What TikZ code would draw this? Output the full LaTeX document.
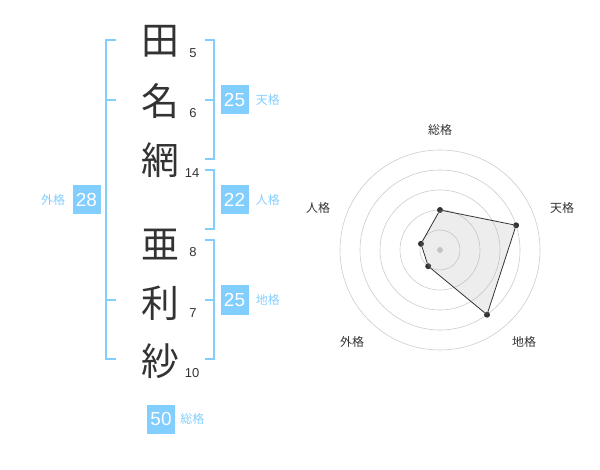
\documentclass[tikz,border=0pt]{standalone}
\usepackage{fontspec}
\usetikzlibrary{positioning}
\setmainfont{Liberation Sans}
\newfontfamily\jp{Noto Sans CJK JP}
\definecolor{skyblue}{HTML}{82CEFF}
\definecolor{ink}{HTML}{333333}
\begin{document}
\begin{tikzpicture}[x=1bp,y=-1bp,
  kanji/.style={text=ink,font=\jp\fontsize{38}{38}\selectfont,inner sep=0pt},
  strokes/.style={text=ink,font=\fontsize{13}{13}\selectfont,inner sep=0pt},
  score/.style={fill=skyblue,text=white,font=\fontsize{19}{19}\selectfont,minimum width=28bp,minimum height=29bp,inner sep=0pt},
  kaku/.style={text=skyblue,font=\jp\fontsize{12}{12}\selectfont,inner sep=0pt},
  brace/.style={draw=skyblue,line width=2bp},
  ring/.style={draw=black!20,line width=0.6bp},
  axis/.style={text=ink,font=\jp\fontsize{12}{12}\selectfont,inner sep=0pt},
  dot/.style={shape=circle,fill=ink,inner sep=0pt,minimum size=6bp}]
\useasboundingbox (0,0) rectangle (600,470);

\node[kanji] (k1) at (160,41) {田};
\node[kanji] (k2) at (160,101) {名};
\node[kanji] (k3) at (160,160) {網};
\node[kanji] (k4) at (160,245) {亜};
\node[kanji] (k5) at (160,303) {利};
\node[kanji] (k6) at (160,361) {紗};

\node[strokes] (s1) at (193,53) {5};
\node[strokes] (s2) at (193,113) {6};
\node[strokes] (s3) at (192,173) {14};
\node[strokes] (s4) at (193,252) {8};
\node[strokes] (s5) at (193,313) {7};
\node[strokes] (s6) at (192,373) {10};

% brackets
\draw[brace] (116,40) -- (106,40) -- (106,359) -- (116,359);
\draw[brace] (106,100) -- (116,100);
\draw[brace] (106,300) -- (116,300);
\draw[brace] (205,40) -- (214,40) -- (214,159) -- (205,159);
\draw[brace] (205,100) -- (214,100);
\draw[brace] (205,170) -- (214,170) -- (214,229) -- (205,229);
\draw[brace] (205,240) -- (214,240) -- (214,359) -- (205,359);
\draw[brace] (205,300) -- (214,300);

\node[score] (gai) at (86.5,200) {28};
\node[kaku,left=7bp of gai] (gaik) {外格};
\node[score] (ten) at (234.5,100) {25};
\node[kaku,right=7bp of ten] (tenk) {天格};
\node[score] (jin) at (234.5,200) {22};
\node[kaku,right=7bp of jin] (jink) {人格};
\node[score] (chi) at (234.5,300) {25};
\node[kaku,right=7bp of chi] (chik) {地格};
\node[score] (sou) at (161,419) {50};
\node[kaku,right=5bp of sou] (souk) {総格};

% radar
\foreach \r in {20,40,60,80,100}
  \draw[ring] (440,250) circle (\r);
\fill[black!20] (440,250) circle (3);

\node[dot] (p1) at (440,210) {};
\node[dot] (p2) at (516.1,225.3) {};
\node[dot] (p3) at (487.0,314.7) {};
\node[dot] (p4) at (428.2,266.2) {};
\node[dot] (p5) at (421.0,243.8) {};
\fill[black!35,opacity=0.2] (p1.center) -- (p2.center) -- (p3.center) -- (p4.center) -- (p5.center) -- cycle;
\draw[ink,line width=0.8bp] (p1) -- (p2) -- (p3) -- (p4) -- (p5) -- (p1);

\node[axis] (a1) at (440,130) {総格};
\node[axis] (a2) at (562,208) {天格};
\node[axis] (a3) at (524,342) {地格};
\node[axis] (a4) at (352,342) {外格};
\node[axis] (a5) at (318,208) {人格};
\end{tikzpicture}
\end{document}
